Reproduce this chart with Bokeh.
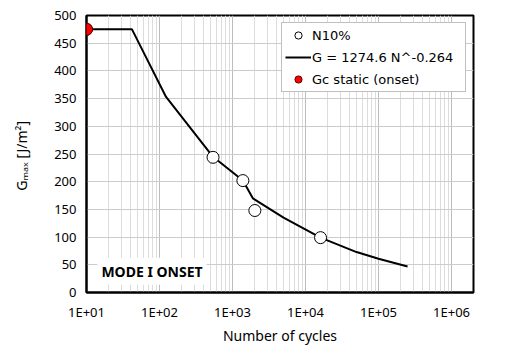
import math
from bokeh.plotting import figure
from bokeh.models import Range1d, FixedTicker, Legend, LegendItem, Label, BoxAnnotation
from bokeh.embed import file_html
from bokeh.resources import INLINE

# ---- data ----
n10_cycles = [541, 1387, 2023, 16070]
n10_gmax = [244, 202, 148, 99]

fit_cycles = [10, 42, 75, 123, 541, 1387, 1900, 5000, 16070, 50000, 100000, 250000]
fit_gmax = [475, 475, 409, 353, 245, 202, 170, 135, 99, 73, 61, 47]

gc_cycles = [10]
gc_gmax = [475]

x_ticks = [10, 100, 1000, 10000, 100000, 1000000]
x_tick_labels = ["1E+01", "1E+02", "1E+03", "1E+04", "1E+05", "1E+06"]
y_ticks = [0, 50, 100, 150, 200, 250, 300, 350, 400, 450, 500]

minor_x = [m * d for d in [10, 100, 1000, 10000, 100000, 1000000] for m in range(2, 10)]

X0, X1, Y0, Y1 = 10, 2e6, 0, 500
BL, BR, BT, BB = 86, 37, 15, 66
W, H = 510, 358

p = figure(width=W, height=H, x_axis_type="log",
           x_range=Range1d(X0, X1), y_range=Range1d(Y0, Y1),
           output_backend="svg", toolbar_location=None,
           min_border_left=BL, min_border_right=BR,
           min_border_top=BT, min_border_bottom=BB)

p.outline_line_color = "black"
p.outline_line_width = 2

# axes
p.xaxis.ticker = FixedTicker(ticks=x_ticks, minor_ticks=minor_x)
p.xaxis.major_label_overrides = {t: l for t, l in zip(x_ticks, x_tick_labels)}
p.yaxis.ticker = FixedTicker(ticks=y_ticks)
for ax in (p.xaxis[0], p.yaxis[0]):
    ax.axis_line_color = "black"
    ax.axis_line_width = 2
    ax.major_tick_out = 0
    ax.major_tick_in = 0
    ax.minor_tick_out = 0
    ax.minor_tick_in = 0
    ax.major_label_text_font = "Noto Sans"
    ax.major_label_text_font_size = "13px"
    ax.major_label_text_color = "black"
    ax.axis_label_text_font = "Noto Sans"
    ax.axis_label_text_font_size = "14px"
    ax.axis_label_text_font_style = "normal"
    ax.axis_label_text_color = "black"
    ax.major_label_standoff = 10

p.xaxis.axis_label = "Number of cycles"
p.xaxis.axis_label_standoff = 2
p.yaxis.axis_label = "Gₘₐₓ  [J/m²]"
p.yaxis.axis_label_standoff = 20

# grid
p.xgrid.grid_line_color = "#bdbdbd"
p.xgrid.grid_line_width = 1
p.xgrid.minor_grid_line_color = "#dcdcdc"
p.xgrid.minor_grid_line_width = 1
p.ygrid.grid_line_color = "#cccccc"
p.ygrid.grid_line_width = 1

# series
r_fit = p.line(fit_cycles, fit_gmax, line_color="black", line_width=2)
r_n10 = p.scatter(n10_cycles, n10_gmax, marker="circle", size=12,
                  fill_color="white", line_color="black", line_width=1)
r_gc = p.scatter(gc_cycles, gc_gmax, marker="circle", size=12,
                 fill_color="red", line_color="#600000", line_width=1)

# un-clipped overlay of the static point (it sits on the frame edge)
frame_w = W - BL - BR
frame_h = H - BT - BB
decade_px = frame_w / math.log10(X1 / X0)
unit_px = frame_h / (Y1 - Y0)
rad = 6
for cx, cy in zip(gc_cycles, gc_gmax):
    p.add_layout(BoxAnnotation(
        left=cx * 10 ** (-rad / decade_px), right=cx * 10 ** (rad / decade_px),
        bottom=cy - rad / unit_px, top=cy + rad / unit_px,
        fill_color="red", fill_alpha=1, line_color="#600000", line_width=1,
        line_alpha=1, border_radius=rad, level="overlay"))

legend = Legend(items=[
    LegendItem(label="N10%", renderers=[r_n10]),
    LegendItem(label="G = 1274.6 N^-0.264", renderers=[r_fit]),
    LegendItem(label="Gc static (onset)", renderers=[r_gc]),
], location="top_right")
legend.margin = 7
legend.padding = 3
legend.spacing = 4
legend.label_height = 18
legend.glyph_height = 18
legend.glyph_width = 26
legend.label_standoff = 1
legend.label_width = 150
legend.label_text_font = "DejaVu Sans"
legend.label_text_font_size = "13px"
legend.label_text_color = "black"
legend.border_line_color = "#7f7f7f"
legend.border_line_width = 1
legend.background_fill_color = "white"
legend.background_fill_alpha = 1
p.add_layout(legend)

mode_label = Label(x=14.1, y=14, text="MODE I ONSET",
                   text_font="Noto Sans", text_font_size="14px",
                   text_font_style="bold", text_color="black",
                   background_fill_color="white", padding=4)
p.add_layout(mode_label)

open("out.html", "w").write(file_html(p, INLINE))
